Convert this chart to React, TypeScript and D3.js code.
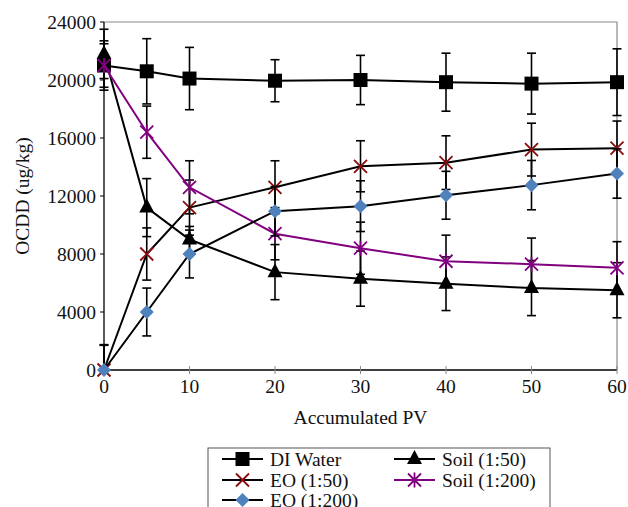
import React from 'react';
import * as d3 from 'd3';

// accumulated pore volumes
const pv = [0, 5, 10, 20, 30, 40, 50, 60];

const diWater = [21000, 20600, 20100, 19950, 20000, 19850, 19750, 19850];
const diWaterErr = [1700, 2250, 2150, 1450, 1700, 2000, 2100, 2300];

const soil50 = [21800, 11200, 9000, 6750, 6300, 5950, 5650, 5500];
const soil50Err = [1700, 2000, 900, 1900, 1900, 1850, 1900, 1900];

const eo50 = [0, 8000, 11200, 12600, 14050, 14300, 15200, 15300];
const eo50Err = [1700, 1800, 1900, 1830, 1760, 1850, 1820, 1870];

const soil200 = [21000, 16400, 12600, 9400, 8400, 7500, 7300, 7050];
const soil200Err = [1500, 1800, 1830, 1800, 1800, 1800, 1800, 1800];

const eo200 = [0, 4000, 8000, 10950, 11300, 12050, 12750, 13550];
const eo200Err = [1750, 1650, 1650, 1700, 1750, 1650, 1700, 1700];

const yTicks = [0, 4000, 8000, 12000, 16000, 20000, 24000];
const xTicks = [0, 10, 20, 30, 40, 50, 60];

type Marker = 'square' | 'triangle' | 'cross' | 'star' | 'diamond';

type Series = {
  name: string;
  values: number[];
  err: number[];
  line: string;
  marker: Marker;
  color: string;
};

const series: Series[] = [
  { name: 'DI Water', values: diWater, err: diWaterErr, line: '#000', marker: 'square', color: '#000' },
  { name: 'Soil (1:50)', values: soil50, err: soil50Err, line: '#000', marker: 'triangle', color: '#000' },
  { name: 'EO (1:50)', values: eo50, err: eo50Err, line: '#000', marker: 'cross', color: '#8b0a0a' },
  { name: 'Soil (1:200)', values: soil200, err: soil200Err, line: '#800080', marker: 'star', color: '#800080' },
  { name: 'EO (1:200)', values: eo200, err: eo200Err, line: '#000', marker: 'diamond', color: '#4f81bd' },
];

const W = 628;
const H = 507;
const plot = { left: 104, right: 617, top: 22, bottom: 370 };
const font = "'Liberation Serif', 'DejaVu Serif', serif";
const fs = 19.5;

const MarkerGlyph = ({ kind, color, x, y }: { kind: Marker; color: string; x: number; y: number }) => {
  if (kind === 'square') {
    return <rect x={x - 7} y={y - 7} width={14} height={14} fill={color} />;
  }
  if (kind === 'triangle') {
    return <path d={`M${x},${y - 9}L${x + 7.5},${y + 5}L${x - 7.5},${y + 5}Z`} fill={color} />;
  }
  if (kind === 'diamond') {
    return <path d={`M${x},${y - 7}L${x + 7},${y}L${x},${y + 7}L${x - 7},${y}Z`} fill={color} />;
  }
  const r = 6.5;
  const cross = `M${x - r},${y - r}L${x + r},${y + r}M${x - r},${y + r}L${x + r},${y - r}`;
  if (kind === 'cross') {
    return <path d={cross} stroke={color} strokeWidth={1.8} fill="none" />;
  }
  return <path d={`${cross}M${x},${y - r - 1}L${x},${y + r + 1}`} stroke={color} strokeWidth={1.8} fill="none" />;
};

export default function App() {
  const x = d3.scaleLinear().domain([0, 60]).range([plot.left, plot.right]);
  const y = d3.scaleLinear().domain([0, 24000]).range([plot.bottom, plot.top]);
  const line = d3
    .line<number>()
    .x((_, i) => x(pv[i]))
    .y((d) => y(d));

  const legendRows = [
    { s: series[0], cx: 222, cy: 459 },
    { s: series[1], cx: 394, cy: 459 },
    { s: series[2], cx: 222, cy: 480 },
    { s: series[3], cx: 394, cy: 480 },
    { s: series[4], cx: 222, cy: 500 },
  ];

  const txt = { fontFamily: font, fontSize: fs, fill: '#111' };

  return (
    <svg
      width={W}
      height={H}
      viewBox={`0 0 ${W} ${H}`}
      style={{ position: 'fixed', left: 0, top: 0, background: '#fff' }}
    >
      <defs>
        <clipPath id="plotClip">
          <rect x={plot.left - 10} y={plot.top} width={plot.right - plot.left + 20} height={plot.bottom - plot.top} />
        </clipPath>
      </defs>

      {/* frame */}
      <path
        d={`M${plot.left},${plot.top}H${plot.right}V${plot.bottom}`}
        fill="none"
        stroke="#8a8a8a"
        strokeWidth={1.2}
      />
      <line x1={plot.left} x2={plot.left} y1={plot.top} y2={plot.bottom} stroke="#000" strokeWidth={1.3} />
      <line x1={plot.left} x2={plot.right} y1={plot.bottom} y2={plot.bottom} stroke="#000" strokeWidth={1.3} />

      {/* y axis */}
      {yTicks.map((t) => (
        <g key={`y${t}`}>
          <line x1={plot.left - 4} x2={plot.left} y1={y(t)} y2={y(t)} stroke="#000" strokeWidth={1} />
          <text x={96} y={y(t)} dy="0.35em" textAnchor="end" style={txt}>
            {t}
          </text>
        </g>
      ))}
      <text
        transform={`translate(22,${(plot.top + plot.bottom) / 2}) rotate(-90)`}
        textAnchor="middle"
        dy="0.35em"
        style={txt}
      >
        OCDD (ug/kg)
      </text>

      {/* x axis */}
      {xTicks.map((t) => (
        <g key={`x${t}`}>
          <line x1={x(t)} x2={x(t)} y1={plot.bottom - 4} y2={plot.bottom + 4} stroke="#8a8a8a" strokeWidth={1} />
          <text x={x(t)} y={393} textAnchor="middle" style={txt}>
            {t}
          </text>
        </g>
      ))}
      <text x={(plot.left + plot.right) / 2} y={424} textAnchor="middle" style={txt}>
        Accumulated PV
      </text>

      {/* series */}
      {series.map((s) => (
        <g key={s.name}>
          <g clipPath="url(#plotClip)" stroke="#000" strokeWidth={1.6}>
            {s.values.map((v, i) => {
              const cx = x(pv[i]);
              const hi = y(v + s.err[i]);
              const lo = y(v - s.err[i]);
              return (
                <g key={i}>
                  <line x1={cx} x2={cx} y1={hi} y2={lo} />
                  <line x1={cx - 4.5} x2={cx + 4.5} y1={hi} y2={hi} />
                  <line x1={cx - 4.5} x2={cx + 4.5} y1={lo} y2={lo} />
                </g>
              );
            })}
          </g>
          <path d={line(s.values) ?? ''} fill="none" stroke={s.line} strokeWidth={2} />
          {s.values.map((v, i) => (
            <MarkerGlyph key={i} kind={s.marker} color={s.color} x={x(pv[i])} y={y(v)} />
          ))}
        </g>
      ))}

      {/* legend */}
      <rect x={208} y={448} width={342} height={70} fill="#fff" stroke="#555" strokeWidth={1} />
      {legendRows.map(({ s, cx, cy }) => (
        <g key={`lg-${s.name}`}>
          <line x1={cx} x2={cx + 41} y1={cy} y2={cy} stroke={s.line} strokeWidth={2} />
          <MarkerGlyph kind={s.marker} color={s.color} x={cx + 20.5} y={cy} />
          <text x={cx + 48} y={cy} dy="0.35em" style={txt}>
            {s.name}
          </text>
        </g>
      ))}
    </svg>
  );
}
